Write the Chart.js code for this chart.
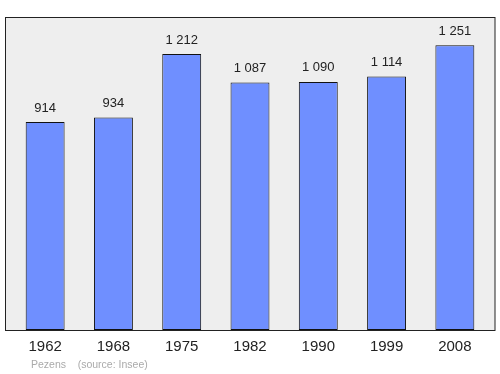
<!DOCTYPE html>
<html>
<head>
<meta charset="utf-8">
<script src="https://cdn.jsdelivr.net/npm/chart.js@4/dist/chart.umd.min.js"></script>
<style>
  html, body { margin: 0; padding: 0; background: #fff; }
  #wrap { width: 500px; height: 374px; }
</style>
</head>
<body>
<div id="wrap"><canvas id="pop-chart" width="500" height="374"></canvas></div>
<script>
let years = ['1962', '1968', '1975', '1982', '1990', '1999', '2008'];
let population = [914, 934, 1212, 1087, 1090, 1114, 1251];
let valueLabels = ['914', '934', '1 212', '1 087', '1 090', '1 114', '1 251'];
let footerText = 'Pezens    (source: Insee)';

// frame, labels and footer drawn around the bars
let framePlugin = {
  id: 'frame',
  beforeDraw(chart) {
    let ctx = chart.ctx;
    let a = chart.chartArea;
    ctx.save();
    ctx.fillStyle = '#eeeeee';
    ctx.fillRect(a.left - 6, a.top, a.right - a.left + 12, a.bottom - a.top);
    ctx.restore();
  },
  afterDatasetsDraw(chart) {
    let ctx = chart.ctx;
    let a = chart.chartArea;
    let meta = chart.getDatasetMeta(0);
    ctx.save();
    ctx.strokeStyle = '#222';
    ctx.lineWidth = 1;
    ctx.strokeRect(a.left - 5.5, a.top + 0.5, a.right - a.left + 11.5, a.bottom - a.top);

    ctx.textAlign = 'center';
    ctx.textBaseline = 'middle';
    ctx.fillStyle = '#222';
    ctx.font = '13px "Liberation Sans", Arial, sans-serif';
    meta.data.forEach((bar, i) => {
      ctx.fillText(valueLabels[i], bar.x, bar.y - 14);
    });
    ctx.font = '15px "Liberation Sans", Arial, sans-serif';
    meta.data.forEach((bar, i) => {
      ctx.fillText(years[i], bar.x, a.bottom + 17);
    });
    ctx.textAlign = 'left';
    ctx.fillStyle = '#aaa';
    ctx.font = '10.5px "Liberation Sans", Arial, sans-serif';
    ctx.fillText(footerText, 31, 365);
    ctx.restore();
  }
};

let ctx = document.getElementById('pop-chart').getContext('2d');
new Chart(ctx, {
  type: 'bar',
  data: {
    labels: years,
    datasets: [{
      data: population,
      backgroundColor: '#6f8fff',
      borderColor: '#111',
      borderWidth: 1,
      borderSkipped: false,
      barPercentage: 0.57,
      categoryPercentage: 1
    }]
  },
  options: {
    responsive: false,
    animation: false,
    layout: { padding: { left: 11, right: 11, top: 17, bottom: 44 } },
    plugins: { legend: { display: false }, tooltip: { enabled: false } },
    scales: {
      x: { display: false },
      y: { display: false, min: 0, max: 1375 }
    }
  },
  plugins: [framePlugin]
});
</script>
</body>
</html>
